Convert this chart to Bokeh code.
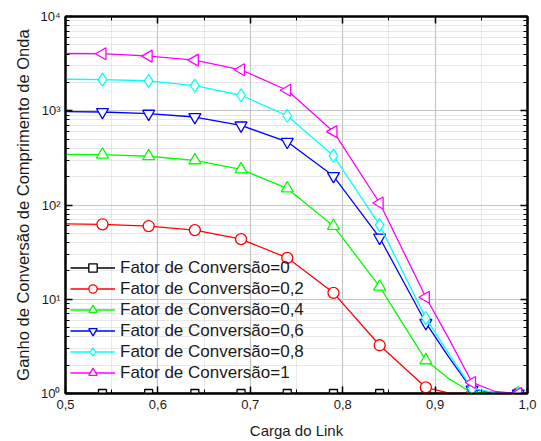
from bokeh.plotting import figure
from bokeh.models import Range1d, FixedTicker, LinearAxis, LogAxis, Legend, LegendItem
from bokeh.embed import file_html
from bokeh.resources import INLINE

# ---- data: marker points ----
x_pts = [0.54, 0.59, 0.64, 0.69, 0.74, 0.79, 0.84, 0.89, 0.94, 0.99]
f_0 = [1, 1, 1, 1, 1, 1, 1, 1, 1, 1]
f_02 = [62.4, 59.8, 54.2, 43.4, 27.5, 11.7, 3.25, 1.16, 1.0, 1.0]
f_04 = [342, 329, 298, 239, 150, 60, 13.6, 2.25, 1.02, 1.0]
f_06 = [970, 930, 858, 698, 468, 203, 45, 5.6, 1.1, 1.0]
f_08 = [2140, 2080, 1850, 1460, 885, 334, 61, 6.3, 1.13, 1.0]
f_1 = [4030, 3800, 3440, 2720, 1650, 600, 105, 10.5, 1.31, 1.0]

# ---- data: curve values read at extra positions (curve start and tail) ----
x_extra = [0.5, 0.915, 0.965]
e_0 = [1, 1, 1]
e_02 = [63, 1.01, 1.0]
e_04 = [345, 1.43, 1.0]
e_06 = [980, 2.42, 1.02]
e_08 = [2160, 2.63, 1.02]
e_1 = [4050, 3.8, 1.05]

labels = ["Fator de Conversão=0", "Fator de Conversão=0,2", "Fator de Conversão=0,4",
          "Fator de Conversão=0,6", "Fator de Conversão=0,8", "Fator de Conversão=1"]
colors = ["#000000", "#ff0000", "#00ff00", "#0000ff", "#00ffff", "#ff00ff"]
markers = ["square", "circle", "triangle", "inverted_triangle", "diamond", "triangle"]
angles = [0, 0, 0, 0, 0, 1.5708]
sizes = [8, 11, 12, 12, 13, 12]
series = [f_0, f_02, f_04, f_06, f_08, f_1]
extras = [e_0, e_02, e_04, e_06, e_08, e_1]

x_major = [0.5, 0.6, 0.7, 0.8, 0.9, 1.0]
x_minor = [0.55, 0.65, 0.75, 0.85, 0.95]
x_labels = ["0,5", "0,6", "0,7", "0,8", "0,9", "1,0"]
y_major = [1, 10, 100, 1000, 10000]
y_labels = ["10⁰", "10¹", "10²", "10³", "10⁴"]
y_minor = [m * d for d in [1, 10, 100, 1000] for m in range(2, 10)]

FONT = "Liberation Sans"

p = figure(width=541, height=441, y_axis_type="log", output_backend="svg",
           toolbar_location=None, x_range=Range1d(0.5, 1.0), y_range=Range1d(1, 10000),
           min_border_left=65, min_border_right=14, min_border_top=16, min_border_bottom=48)

p.outline_line_color = "black"
p.outline_line_width = 2

xt = FixedTicker(ticks=x_major, minor_ticks=x_minor)
yt = FixedTicker(ticks=y_major, minor_ticks=y_minor)

for ax in [p.xaxis[0], p.yaxis[0]]:
    ax.axis_line_width = 2
    ax.major_tick_in = 7
    ax.major_tick_out = 0
    ax.minor_tick_in = 4
    ax.minor_tick_out = 0
    ax.major_tick_line_width = 1.5
    ax.major_label_text_font = FONT
    ax.major_label_text_font_size = "13px"
    ax.major_label_text_color = "#1a1a1a"
    ax.axis_label_text_font = FONT
    ax.axis_label_text_font_style = "normal"
    ax.axis_label_text_color = "#1a1a1a"

p.xaxis[0].ticker = xt
p.xaxis[0].major_label_overrides = {v: s for v, s in zip(x_major, x_labels)}
p.xaxis[0].axis_label = "Carga do Link"
p.xaxis[0].axis_label_text_font_size = "15px"
p.xaxis[0].axis_label_standoff = 10
p.xaxis[0].major_label_standoff = 6
p.yaxis[0].ticker = yt
p.yaxis[0].major_label_overrides = {v: s for v, s in zip(y_major, y_labels)}
p.yaxis[0].axis_label = "Ganho de Conversão de Comprimento de Onda"
p.yaxis[0].axis_label_text_font_size = "16.5px"
p.yaxis[0].axis_label_standoff = 5
p.yaxis[0].major_label_standoff = 5

ax_r = LogAxis(ticker=yt, major_tick_in=7, major_tick_out=0, minor_tick_in=4, minor_tick_out=0,
               axis_line_width=2, major_tick_line_width=1.5, major_label_standoff=0,
               major_label_overrides={v: "" for v in y_major})
ax_t = LinearAxis(ticker=xt, major_tick_in=7, major_tick_out=0, minor_tick_in=4, minor_tick_out=0,
                  axis_line_width=2, major_tick_line_width=1.5, major_label_standoff=0,
                  major_label_overrides={v: "" for v in x_major})
p.add_layout(ax_r, "right")
p.add_layout(ax_t, "above")

p.xgrid.ticker = xt
p.ygrid.ticker = yt
for g in [p.xgrid[0], p.ygrid[0]]:
    g.grid_line_color = "#c4c4c4"
    g.grid_line_width = 1.2
    g.minor_grid_line_color = "#d0d0d0"
    g.minor_grid_line_dash = "1 1"
    g.minor_grid_line_width = 1

items = []
for lab, col, mk, ang, sz, ys, ex in zip(labels, colors, markers, angles, sizes, series, extras):
    pts = sorted(zip(x_pts + x_extra, ys + ex))
    lx = [a for a, b in pts]
    ly = [b for a, b in pts]
    lr = p.line(lx, ly, line_color=col, line_width=1.3)
    mr = p.scatter(x_pts, ys, marker=mk, angle=ang, size=sz, line_color=col,
                   fill_color="white", line_width=1.3)
    items.append(LegendItem(label=lab, renderers=[lr, mr]))

legend = Legend(items=items, location=(5, 10), background_fill_alpha=0, border_line_alpha=0,
                label_text_font=FONT, label_text_font_size="17px", label_text_color="#1a1a1a",
                glyph_width=45, glyph_height=21, label_height=21, spacing=0, padding=0, margin=0,
                label_standoff=5)
p.add_layout(legend, "center")

open("out.html", "w").write(file_html(p, INLINE))
